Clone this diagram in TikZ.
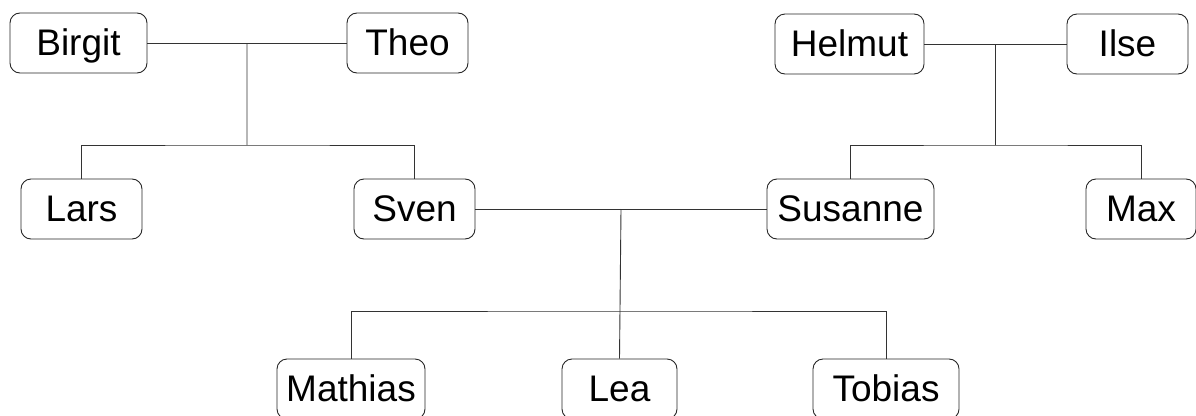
\documentclass[tikz,border=0pt]{standalone}
\usepackage{fontspec}
\setmainfont{Liberation Sans}
\usetikzlibrary{calc}

\begin{document}
\begin{tikzpicture}[x=1pt,y=-1pt,
	person/.style={draw=black!85, rounded corners=10pt, line width=0.9pt, minimum width=121pt, minimum height=60pt, inner sep=0pt, text height=32pt, text depth=8pt, font=\fontsize{37}{40}\selectfont},
	link/.style={draw=black!80, line width=0.9pt}]
	\useasboundingbox (0,0) rectangle (1196,415);
	\node[person, minimum width=137pt] (birgit) at (78.5,43) {Birgit};
	\node[person] (theo) at (407.5,43) {Theo};
	\node[person] (lars) at (81.5,209) {Lars};
	\node[person] (sven) at (414.5,209) {Sven};
	\node[person, minimum width=149pt] (helmut) at (849.5,44) {Helmut};
	\node[person] (ilse) at (1127.5,44) {Ilse};
	\node[person, minimum width=167pt] (susanne) at (850.5,209) {Susanne};
	\node[person, minimum width=110pt] (max) at (1141,209) {Max};
	\node[person, minimum width=148pt] (mathias) at (351,389) {Mathias};
	\node[person, minimum width=115pt] (lea) at (619.5,389) {Lea};
	\node[person, minimum width=146pt] (tobias) at (886,389) {Tobias};
	
	% Birgit and Theo
	\coordinate (bt) at ($(birgit.east)!.5!(theo.west)$);
	\coordinate (btkids) at (247,145);
	\draw[link](birgit) -- (theo);
	\draw[link](bt) -- (btkids);
	\draw[link](lars.north) |- (btkids) -| (sven.north);
	% Helmut and Ilse
	\coordinate (hi) at ($(helmut.east)!.5!(ilse.west)$);
	\coordinate (hikids) at (995.5,145);
	\draw[link](helmut) -- (ilse);
	\draw[link](hi) -- (hikids);
	\draw[link](susanne.north) |- (hikids) -| (max.north);
	% Sven and Susanne
	\coordinate (ss) at ($(sven.east)!.5!(susanne.west)$);
	\coordinate (sskids) at (621,311);
	\draw[link](sven) -- (susanne);
	\draw[link](ss) -- (lea.north);
	\draw[link](mathias.north) |- (sskids) -| (tobias.north);
\end{tikzpicture}
\end{document}
